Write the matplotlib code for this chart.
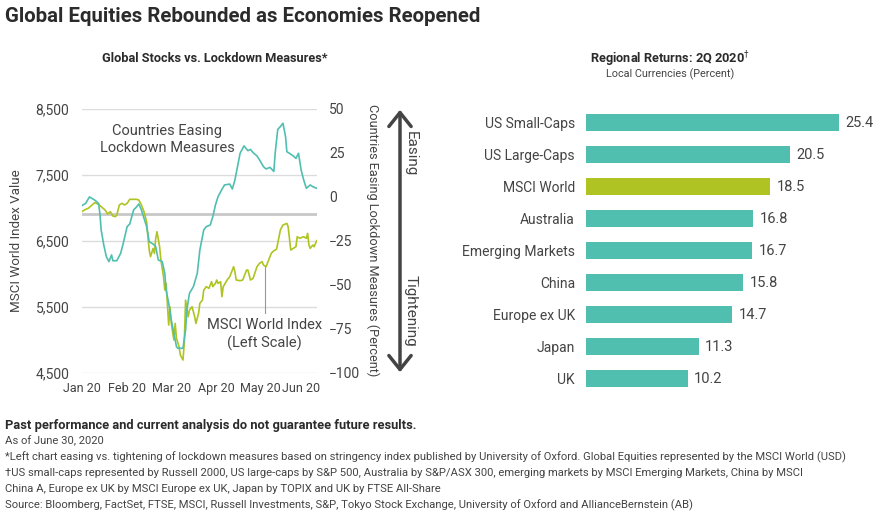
import matplotlib
matplotlib.use('Agg')
import matplotlib.pyplot as plt

plt.rcParams['font.family'] = ['Liberation Sans Narrow', 'Roboto', 'DejaVu Sans']

# --- left chart data ---
# day offsets from Jan 1 2020
easing_days = [0, 3, 6, 10, 13, 14, 15, 17, 19, 21, 23, 24, 27, 30, 32, 35, 37, 40, 42, 44,
               46, 48, 50, 52, 55, 57, 59, 62, 64, 65, 67, 69, 71, 73, 74, 78, 80, 81, 83, 86,
               89, 91, 94, 96, 99, 101, 103, 105, 108, 110, 114, 116, 118, 120, 122, 125, 128,
               130, 132, 135, 137, 140, 142, 145, 148, 149, 151, 153, 155, 157, 158, 160, 163,
               165, 167, 169, 171, 173, 176, 178, 181]
easing = [-5.0, -3.7, 0.0, -1.8, -3.7, -9.4, -18.8, -27.4, -34.0, -36.8, -33.0, -36.3, -36.3,
          -32.1, -26.4, -16.9, -15.4, -7.4, -5.9, -4.0, -7.4, -12.2, -16.9, -25.5, -26.8, -28.3,
          -35.9, -36.8, -43.5, -52.9, -60.5, -70.0, -77.6, -85.2, -86.1, -86.1, -75.7, -64.3,
          -54.8, -51.1, -43.5, -30.2, -18.8, -16.9, -16.0, -11.2, -4.6, 0.1, 4.3, 6.8, 7.3, 4.5,
          9.6, 17.2, 24.8, 29.0, 26.3, 27.0, 25.2, 23.3, 21.0, 17.2, 15.9, 16.8, 14.5, 24.8,
          38.4, 40.0, 41.9, 34.3, 25.7, 24.8, 23.3, 21.9, 24.8, 15.3, 9.6, 4.9, 6.8, 5.8, 4.9]

msci_days = [0, 3, 5, 8, 10, 13, 15, 18, 20, 22, 24, 26, 27, 29, 31, 33, 35, 37, 40, 42, 44,
             46, 48, 50, 51, 52, 53, 55, 56, 57, 58, 60, 61, 63, 64, 65, 67, 68, 69, 71, 72, 73,
             75, 76, 78, 79, 80, 82, 83, 85, 87, 88, 90, 91, 93, 94, 96, 98, 100, 101, 103, 104,
             105, 107, 108, 109, 112, 114, 117, 118, 119, 122, 124, 127, 128, 130, 132, 135, 137,
             139, 140, 142, 144, 146, 148, 150, 151, 153, 155, 158, 159, 161, 163, 165, 166, 168,
             169, 171, 173, 174, 175, 176, 178, 179, 181]
msci = [6942, 6978, 6993, 7044, 7079, 7054, 7018, 6968, 6907, 6942, 6877, 6867, 6892, 7044,
        7069, 7044, 7069, 7130, 7130, 7130, 7119, 7044, 6942, 6791, 6563, 6361, 6260, 6386,
        6310, 6538, 6639, 6411, 6209, 5956, 5754, 5855, 5223, 5501, 5248, 4996, 5248, 5021,
        4894, 4768, 4692, 4945, 5602, 5349, 5451, 5501, 5349, 5248, 5400, 5552, 5602, 5754,
        5805, 5779, 5880, 5805, 5855, 5906, 5855, 5880, 5653, 5805, 5906, 5956, 6108, 6032,
        5906, 5896, 5906, 6057, 6057, 5906, 5931, 6108, 6159, 6184, 6133, 6108, 6209, 6310,
        6351, 6371, 6462, 6664, 6740, 6765, 6715, 6361, 6386, 6411, 6563, 6538, 6548, 6563,
        6538, 6614, 6437, 6386, 6437, 6411, 6502]

month_labels = ['Jan 20', 'Feb 20', 'Mar 20', 'Apr 20', 'May 20', 'Jun 20']
msci_ticks = [4500, 5500, 6500, 7500, 8500]
easing_ticks = [-100, -75, -50, -25, 0, 25, 50]

# --- right chart data ---
regions = ['US Small-Caps', 'US Large-Caps', 'MSCI World', 'Australia', 'Emerging Markets',
           'China', 'Europe ex UK', 'Japan', 'UK']
returns = [25.4, 20.5, 18.5, 16.8, 16.7, 15.8, 14.7, 11.3, 10.2]

TEAL = '#50bfaf'
OLIVE = '#afc422'
TXT = '#444444'

fig = plt.figure(figsize=(8.8, 5.12), dpi=100)

# left: stocks vs lockdown
ax = fig.add_axes([81.7 / 880, 1 - 372.7 / 512, 235 / 880, 263.7 / 512])
ax.set_xlim(0, 181)
ax.set_ylim(4500, 8500)
ax.set_yticks(msci_ticks)
ax.set_yticklabels([f'{v:,}' for v in msci_ticks])
ax.set_xticks([0, 35, 69, 104, 138, 169])
ax.set_xticklabels(month_labels)
for v in msci_ticks:
    ax.axhline(v, color='#dcdcdc', lw=1, zorder=0)
ax.axhline(6900, color='#c8c8c8', lw=2, zorder=0)
for s in ax.spines.values():
    s.set_visible(False)
ax.tick_params(length=0, labelsize=10, colors=TXT)
ax.tick_params(axis='y', pad=9)
ax.tick_params(axis='x', pad=7, labelsize=9)
ax.plot(msci_days, msci, color=OLIVE, lw=1.2, zorder=3)

ax2 = ax.twinx()
ax2.set_ylim(-100, 50)
ax2.set_yticks(easing_ticks)
ax2.set_yticklabels([str(v).replace('-', '\u2212') for v in easing_ticks])
for s in ax2.spines.values():
    s.set_visible(False)
ax2.tick_params(length=0, labelsize=10, colors=TXT, pad=9)
ax2.plot(easing_days, easing, color=TEAL, lw=1.2, zorder=4)

ax2.text(66, 32.6, 'Countries Easing\nLockdown Measures', ha='center', va='center',
         fontsize=10.5, color=TXT, linespacing=1.25)
ax.plot([141, 141], [6120, 5400], color='#999999', lw=0.8)
ax.text(141, 5080, 'MSCI World Index\n(Left Scale)', ha='center', va='center',
        fontsize=10.5, color=TXT, linespacing=1.25)

fig.text(17 / 880, 1 - 241 / 512, 'MSCI World Index Value', rotation=90, ha='center',
         va='center', fontsize=9.6, color=TXT)
fig.text(373 / 880, 1 - 240 / 512, 'Countries Easing Lockdown Measures (Percent)',
         rotation=-90, ha='center', va='center', fontsize=9.2, color=TXT)

ax.annotate('', xy=(400 / 880, 1 - 107 / 512), xytext=(400 / 880, 1 - 375 / 512),
            xycoords='figure fraction', textcoords='figure fraction',
            arrowprops=dict(arrowstyle='<->,head_length=0.5,head_width=0.4',
                            lw=2.5, color='#444444', mutation_scale=20))
fig.text(411 / 880, 1 - 154 / 512, 'Easing', rotation=-90, ha='center', va='center',
         fontsize=11, color=TXT)
fig.text(411 / 880, 1 - 311 / 512, 'Tightening', rotation=-90, ha='center', va='center',
         fontsize=11, color=TXT)

# right: regional returns
bx = fig.add_axes([586 / 880, 1 - 394.7 / 512, 289 / 880, 288 / 512])
colors = [OLIVE if r == 'MSCI World' else TEAL for r in regions]
pos = list(range(len(regions)))
bars = bx.barh(pos, returns, height=0.52, color=colors)
bx.set_ylim(len(regions) - 0.5, -0.5)
bx.set_xlim(0, 29)
bx.set_yticks(pos)
bx.set_yticklabels(regions)
bx.set_xticks([])
for s in bx.spines.values():
    s.set_visible(False)
bx.tick_params(length=0, labelsize=10, colors=TXT, pad=8)
for b, v in zip(bars, returns):
    bx.text(b.get_width() + 0.6, b.get_y() + b.get_height() / 2, f'{v:.1f}',
            va='center', ha='left', fontsize=10.5, color=TXT)

# titles
fig.text(5 / 880, 1 - 17 / 512, 'Global Equities Rebounded as Economies Reopened',
         fontsize=14.7, weight='bold', color='#2b2b2b', va='center')
fig.text(215 / 880, 1 - 59 / 512, 'Global Stocks vs. Lockdown Measures*', fontsize=9.2,
         weight='bold', color='#2b2b2b', ha='center', va='center')
fig.text(670 / 880, 1 - 59 / 512, 'Regional Returns: 2Q 2020$^{\\dagger}$', fontsize=9.2,
         weight='bold', color='#2b2b2b', ha='center', va='center')
fig.text(670 / 880, 1 - 74 / 512, 'Local Currencies (Percent)', fontsize=7.8,
         color=TXT, ha='center', va='center')

# footnotes
notes = [
    'As of June 30, 2020',
    '*Left chart easing vs. tightening of lockdown measures based on stringency index published by '
    'University of Oxford. Global Equities represented by the MSCI World (USD)',
    '\u2020US small-caps represented by Russell 2000, US large-caps by S&P 500, Australia by S&P/ASX 300, '
    'emerging markets by MSCI Emerging Markets, China by MSCI',
    'China A, Europe ex UK by MSCI Europe ex UK, Japan by TOPIX and UK by FTSE All-Share',
    'Source: Bloomberg, FactSet, FTSE, MSCI, Russell Investments, S&P, Tokyo Stock Exchange, '
    'University of Oxford and AllianceBernstein (AB)',
]
fig.text(5 / 880, 1 - 426 / 512,
         'Past performance and current analysis do not guarantee future results.',
         fontsize=9.3, weight='bold', color='#2b2b2b', va='center')
for i, line in enumerate(notes):
    fig.text(5 / 880, 1 - (441 + 16 * i) / 512, line, fontsize=8.15, color=TXT, va='center')

fig.savefig('out.png', dpi=100)
